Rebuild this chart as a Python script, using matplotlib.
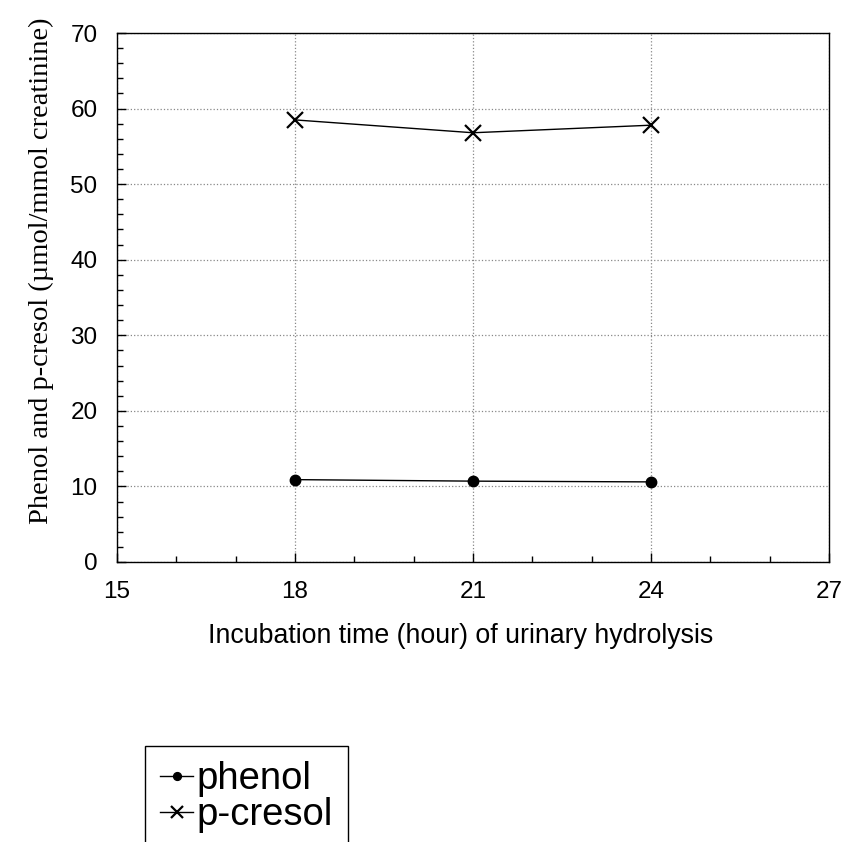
import matplotlib.pyplot as plt
from matplotlib.ticker import MultipleLocator

hours = [18, 21, 24]
phenol = [10.9, 10.7, 10.6]
p_cresol = [58.5, 56.8, 57.8]

x_ticks = [15, 18, 21, 24, 27]
y_ticks = [0, 10, 20, 30, 40, 50, 60, 70]

sans = ["Liberation Sans", "DejaVu Sans"]
serif = ["Liberation Serif", "DejaVu Serif"]

fig = plt.figure(figsize=(8.43, 8.42), dpi=100)
ax = fig.add_axes([117 / 843, 280 / 842, 712 / 843, 529 / 842])

l1, = ax.plot(hours, phenol, color="black", lw=1.0, marker="o", ms=7.5,
              label="phenol")
l2, = ax.plot(hours, p_cresol, color="black", lw=1.0, marker="x", ms=11,
              mew=1.6, label="p-cresol")

ax.set_xlim(15, 27); ax.set_ylim(0, 70)
ax.set_xticks(x_ticks); ax.set_yticks(y_ticks)
ax.xaxis.set_minor_locator(MultipleLocator(1))
ax.yaxis.set_minor_locator(MultipleLocator(2))
ax.tick_params(which="both", direction="in", top=False, right=False,
               width=1.0, labelsize=17.5, pad=14)
ax.tick_params(which="major", length=6.5)
ax.tick_params(which="minor", length=4)
for lab in ax.get_xticklabels() + ax.get_yticklabels():
    lab.set_family(sans)

ax.grid(True, which="major", ls=":", color="#888888", lw=0.9)
for s in ax.spines.values():
    s.set_linewidth(1.0)

ax.set_xlabel("Incubation time (hour) of urinary hydrolysis",
              family=sans, fontsize=19.3, labelpad=14)
ax.xaxis.label.set_x(0.482)
ax.set_ylabel("Phenol and p-cresol (\u00b5mol/mmol creatinine)",
              family=serif, fontsize=20.5, labelpad=12)
ax.yaxis.label.set_y(0.55)

leg = fig.legend(handles=[l1, l2], loc="upper left",
                 bbox_to_anchor=(145 / 843, 1 - 746 / 842),
                 prop={"family": sans, "size": 27.5}, frameon=True,
                 fancybox=False, framealpha=1, edgecolor="black",
                 handlelength=0.85, handletextpad=0.1, borderpad=0.4,
                 labelspacing=0.0, borderaxespad=0, markerscale=0.75)
leg.get_frame().set_linewidth(1.0)

fig.savefig("out.png", dpi=100)
